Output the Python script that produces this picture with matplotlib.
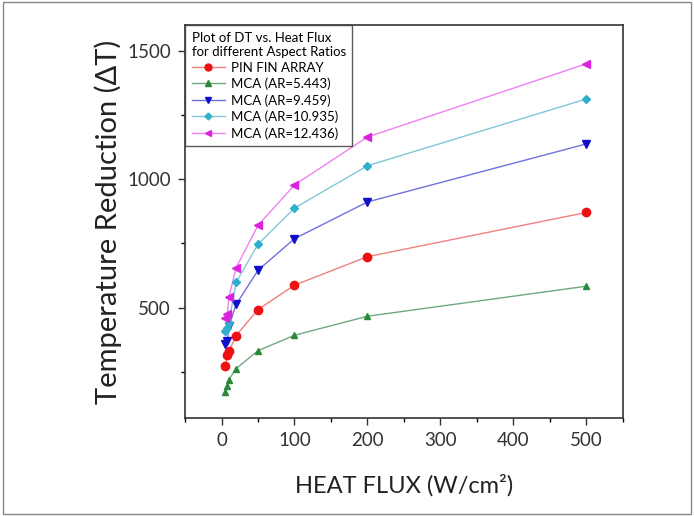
import matplotlib
matplotlib.use("Agg")
import matplotlib.pyplot as plt
from matplotlib.patches import Rectangle
from matplotlib.ticker import MultipleLocator

plt.rcParams['font.family'] = ['Lato', 'DejaVu Sans']

# heat flux (W/cm^2)
flux = [5, 8, 10, 20, 50, 100, 200, 500]

# temperature reduction
pin_fin = [271, 316, 329, 391, 492, 587, 698, 870]
mca_5443 = [173, 193, 219, 262, 332, 392, 466, 583]
mca_9459 = [356, 369, 427, 512, 645, 768, 911, 1137]
mca_10935 = [407, 421, 441, 598, 746, 887, 1052, 1312]
mca_12436 = [460, 473, 539, 655, 820, 977, 1164, 1449]

labels = ["PIN FIN ARRAY", "MCA (AR=5.443)", "MCA (AR=9.459)",
          "MCA (AR=10.935)", "MCA (AR=12.436)"]
series = [pin_fin, mca_5443, mca_9459, mca_10935, mca_12436]
marker_colors = ["#ee1111", "#2a8a3a", "#1010cc", "#30b0cc", "#dd22dd"]
line_colors = ["#f08080", "#70a880", "#7070e0", "#80c8d8", "#f080f0"]
markers = ["o", "^", "v", "D", "<"]
sizes = [6, 5, 6, 4.5, 6]

fig = plt.figure(figsize=(6.94, 5.16), dpi=100)
ax = fig.add_axes([0.2666, 0.19, 0.631, 0.7616])

for ys, lab, mc, lc, mk, ms in zip(series, labels, marker_colors, line_colors, markers, sizes):
    ax.plot(flux, ys, color=lc, linewidth=1.0, zorder=2)
    ax.plot(flux, ys, linestyle='none', marker=mk, markersize=ms,
            color=mc, markeredgecolor=mc, zorder=3)
    # proxy for the legend (line + marker)
    ax.plot([], [], color=lc, linewidth=1.0, marker=mk, markersize=ms - 1,
            markerfacecolor=mc, markeredgecolor=mc, label=lab)

ax.set_xlim(-50, 550)
ax.set_ylim(70, 1600)
ax.xaxis.set_major_locator(MultipleLocator(100))
ax.xaxis.set_minor_locator(MultipleLocator(50))
ax.yaxis.set_major_locator(MultipleLocator(500))
ax.yaxis.set_minor_locator(MultipleLocator(250))
ax.tick_params(which='major', direction='out', length=5, width=1,
               labelsize=13.5, colors='#333333', top=False, right=False, pad=5)
ax.tick_params(which='minor', direction='out', length=3, width=1,
               top=False, right=False)
for sp in ax.spines.values():
    sp.set_color('#333333')
    sp.set_linewidth(1.2)

ax.set_xlabel("HEAT FLUX (W/cm²)", fontsize=17, color='#222222', labelpad=18)
ax.set_ylabel("Temperature Reduction (ΔT)", fontsize=21, color='#222222', labelpad=4)

leg = ax.legend(loc='upper left', fontsize=9.5, frameon=True, fancybox=False,
                title="Plot of DT vs. Heat Flux\nfor different Aspect Ratios",
                title_fontsize=9.5, borderaxespad=0, handlelength=2.5,
                labelspacing=0.3, borderpad=0.5, handletextpad=0.5)
leg._legend_box.align = "left"
leg.get_frame().set_edgecolor('#333333')
leg.get_frame().set_linewidth(1.0)

# outer frame around the whole picture
fig.patches.append(Rectangle((0.004, 0.004), 0.992, 0.992, transform=fig.transFigure,
                             fill=False, edgecolor='#888888', linewidth=1))

fig.savefig("out.png", dpi=100)
